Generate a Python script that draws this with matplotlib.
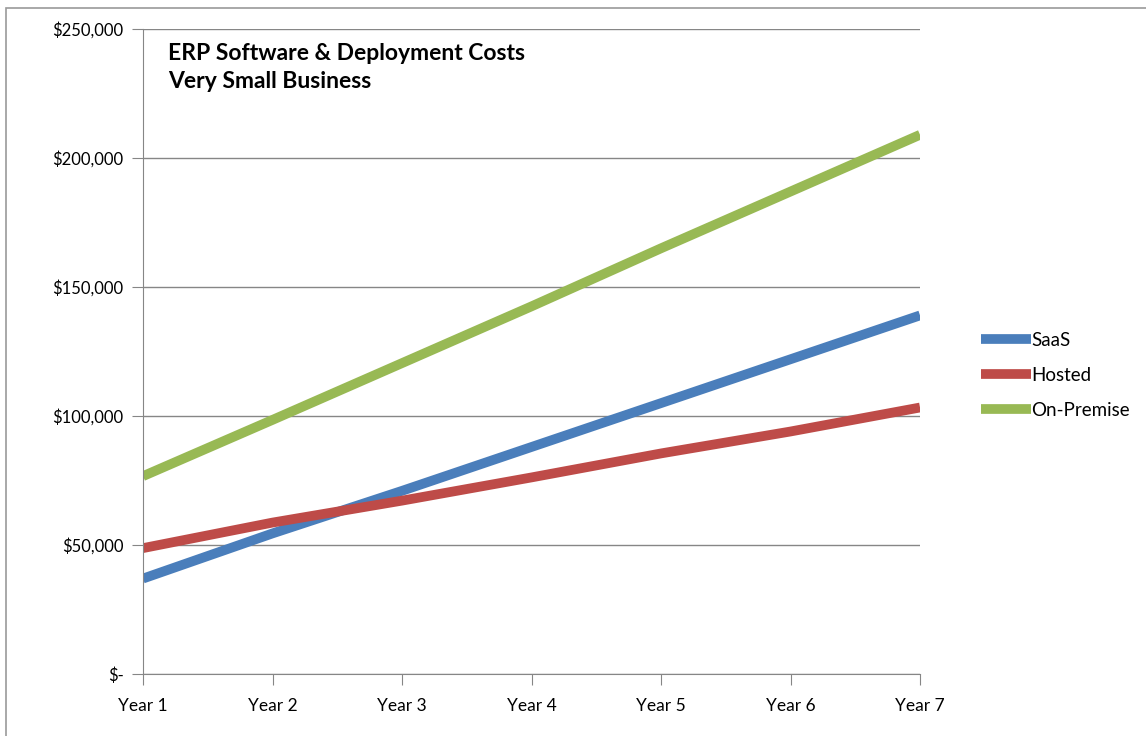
import matplotlib
matplotlib.use("Agg")
import matplotlib.pyplot as plt
from matplotlib.ticker import FuncFormatter
from matplotlib.patches import Rectangle

# data
years = ["Year 1", "Year 2", "Year 3", "Year 4", "Year 5", "Year 6", "Year 7"]
saas = [37000, 54500, 71000, 88000, 105000, 122000, 139000]
hosted = [48800, 58700, 67200, 76200, 85500, 94000, 103300]
on_premise = [76700, 98500, 120500, 142500, 165000, 187000, 209000]

series_names = ["SaaS", "Hosted", "On-Premise"]
series_colors = ["#4A7EBB", "#BE4B48", "#98B954"]

plt.rcParams['font.family'] = ['Lato', 'DejaVu Sans']

fig = plt.figure(figsize=(11.46, 7.36), dpi=100)
ax = fig.add_axes([0.1248, 0.0842, 0.8028 - 0.1248, 0.9606 - 0.0842])

x = list(range(len(years)))
for vals, name, col in zip([saas, hosted, on_premise], series_names, series_colors):
    ax.plot(x, vals, color=col, linewidth=7.0, label=name, solid_capstyle="butt")

ax.set_xlim(0, len(years) - 1)
ax.set_ylim(0, 250000)
ax.set_yticks(range(0, 250001, 50000))
ax.set_xticks(x)
ax.set_xticklabels(years)

def money(v, pos):
    if v == 0:
        return "$-"
    return "${:,.0f}".format(v)

ax.yaxis.set_major_formatter(FuncFormatter(money))
ax.grid(axis="y", color="#868686", linewidth=1)
ax.set_axisbelow(True)
for s in ["top", "right"]:
    ax.spines[s].set_visible(False)
ax.spines["left"].set_color("#868686")
ax.spines["bottom"].set_color("#868686")
ax.tick_params(axis="y", length=8, color="#868686", labelsize=12, pad=6)
ax.tick_params(axis="x", length=8, color="#868686", labelsize=12.5, pad=9)

ax.text(0.032, 0.978, "ERP Software & Deployment Costs\nVery Small Business",
        transform=ax.transAxes, ha="left", va="top", fontsize=16.5,
        fontweight="bold", linespacing=1.38)

leg = fig.legend(loc="center left", bbox_to_anchor=(0.841, 0.49), frameon=False,
                 handlelength=2.7, handletextpad=0.0, labelspacing=0.95,
                 fontsize=13.5)

# outer chart border
fig.patches.append(Rectangle((6 / 1146, -0.05), 1.1, 1 - 8 / 736 + 0.05,
                             transform=fig.transFigure, fill=False,
                             edgecolor="#9a9a9a", linewidth=1.2))

fig.savefig("out.png", dpi=100)
